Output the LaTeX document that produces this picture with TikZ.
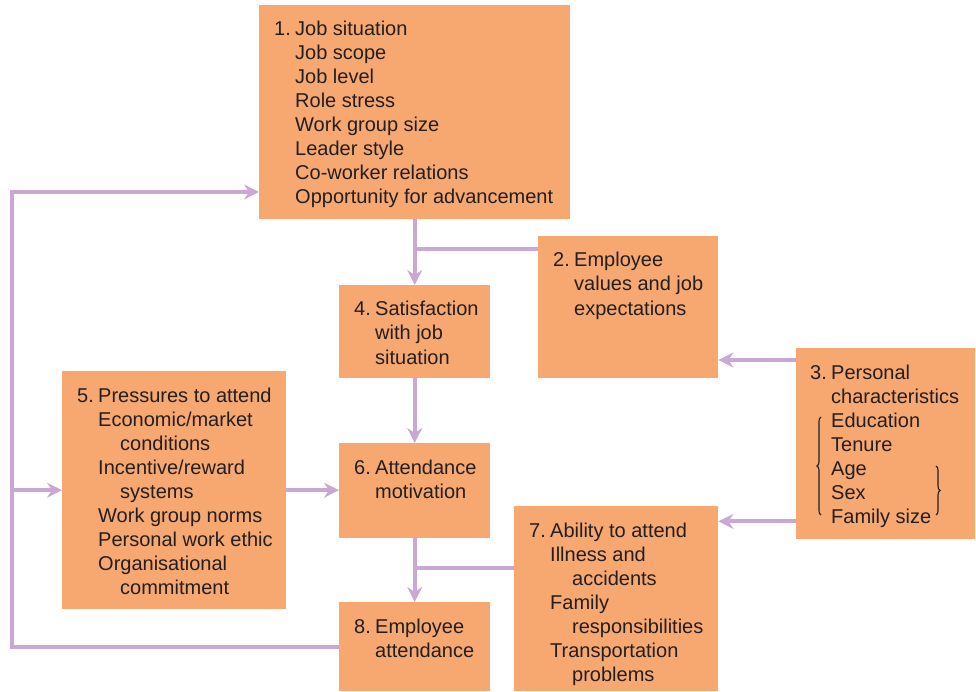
\documentclass[tikz,border=0pt]{standalone}
\usepackage{fontspec}
\setmainfont{Liberation Sans}
\usepackage{xcolor}
\usetikzlibrary{arrows.meta,decorations.pathreplacing}

\definecolor{boxorange}{HTML}{F7A870}
\definecolor{linkpurple}{HTML}{C9A9D3}
\definecolor{ink}{HTML}{231F20}

% hanging indent for wrapped items
\newcommand{\more}{\hspace*{22pt}}

\tikzset{
  factor/.style={fill=boxorange,inner sep=0pt,anchor=north west},
  txt/.style={anchor=base west,inner sep=0pt,text=ink,font=\fontsize{20}{24}\selectfont},
  link/.style={draw=linkpurple,line width=4pt},
  >={Stealth[length=15pt,width=15pt,inset=5pt]}
}

\begin{document}
\begin{tikzpicture}[x=1pt,y=-1pt]
\useasboundingbox (0,0) rectangle (976,692);

% boxes: name/left/top/width/height
\foreach \n/\x/\y/\w/\h in {b1/259/5/311/214, b2/538/236/180/142, b3/796/348/179/191,
  b4/339/285/151/93, b5/62/371/224/238, b6/339/443/151/95, b7/514/506/204/185, b8/339/602/151/89}
\node [factor,minimum width=\w*1pt,minimum height=\h*1pt] (\n) at (\x,\y) {};

\node [txt] (t1) at ([xshift=15pt,yshift=-31pt]b1.north west) {\begin{tabular}[t]{@{}p{21pt}@{}l@{}}
1. & Job situation\\
 & Job scope\\
 & Job level\\
 & Role stress\\
 & Work group size\\
 & Leader style\\
 & Co-worker relations\\
 & Opportunity for advancement
\end{tabular}};
\node [txt] (t2) at ([xshift=15pt,yshift=-31pt]b2.north west) {\begin{tabular}[t]{@{}p{21pt}@{}l@{}}
2. & Employee\\
 & values and job\\
 & expectations
\end{tabular}};
\node [txt] (t3) at ([xshift=14pt,yshift=-31pt]b3.north west) {\begin{tabular}[t]{@{}p{21pt}@{}l@{}}
3. & Personal\\
 & characteristics\\
 & Education\\
 & Tenure\\
 & Age\\
 & Sex\\
 & Family size
\end{tabular}};
\node [txt] (t4) at ([xshift=15pt,yshift=-31pt]b4.north west) {\begin{tabular}[t]{@{}p{21pt}@{}l@{}}
4. & Satisfaction\\
 & with job\\
 & situation
\end{tabular}};
\node [txt] (t5) at ([xshift=15pt,yshift=-31pt]b5.north west) {\begin{tabular}[t]{@{}p{21pt}@{}l@{}}
5. & Pressures to attend\\
 & Economic/market\\
 & \more conditions\\
 & Incentive/reward\\
 & \more systems\\
 & Work group norms\\
 & Personal work ethic\\
 & Organisational\\
 & \more commitment
\end{tabular}};
\node [txt] (t6) at ([xshift=15pt,yshift=-31pt]b6.north west) {\begin{tabular}[t]{@{}p{21pt}@{}l@{}}
6. & Attendance\\
 & motivation
\end{tabular}};
\node [txt] (t7) at ([xshift=15pt,yshift=-31pt]b7.north west) {\begin{tabular}[t]{@{}p{21pt}@{}l@{}}
7. & Ability to attend\\
 & Illness and\\
 & \more accidents\\
 & Family\\
 & \more responsibilities\\
 & Transportation\\
 & \more problems
\end{tabular}};
\node [txt] (t8) at ([xshift=15pt,yshift=-31pt]b8.north west) {\begin{tabular}[t]{@{}p{21pt}@{}l@{}}
8. & Employee\\
 & attendance
\end{tabular}};

% braces in box 3
\draw [ink,line width=1.1pt,decorate,decoration={brace,amplitude=4pt}] (821,515) -- (821,417);
\draw [ink,line width=1.1pt,decorate,decoration={brace,amplitude=4pt}] (936,466) -- (936,515);

% junctions
\coordinate (j1) at ([yshift=-13pt]b2.north -| b1.south);
\coordinate (j2) at ([yshift=-62pt]b7.north -| b6.south);
\coordinate (lp) at (12,192);

\draw [link,->] (b1.south) -- (b4.north);
\draw [link] (b2.west |- j1) -- (j1);
\draw [link,->] ([yshift=-12pt]b3.north west) -- ([yshift=-12pt]b3.north west -| b2.east);
\draw [link,->] ([yshift=18pt]b3.south west) -- ([yshift=18pt]b3.south west -| b7.east);
\draw [link,->] (b4.south) -- (b6.north);
\draw [link,->] (b5.east) -- (b5.east -| b6.west);
\draw [link,->] (b6.south) -- (b8.north);
\draw [link] (b7.west |- j2) -- (j2);

% feedback loop
\draw [link,->] (b8.west) -| (lp) -- (lp -| b1.west);
\draw [link,->] (lp |- b5.west) -- (b5.west);
\end{tikzpicture}
\end{document}
